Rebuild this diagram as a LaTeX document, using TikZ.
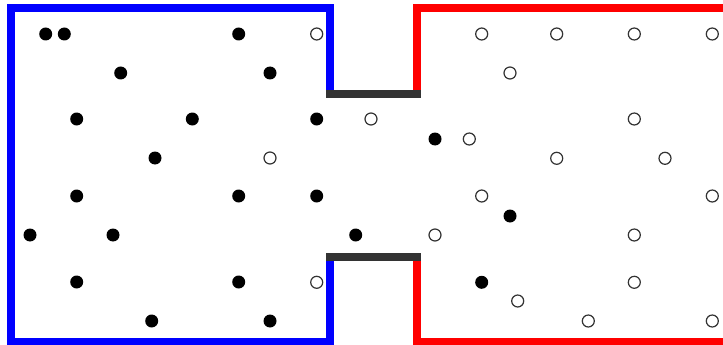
\documentclass[tikz,border=0pt]{standalone}
\begin{document}
\begin{tikzpicture}[x=1pt,y=-1pt,
  wall/.style={line width=8pt,line join=miter},
  bluewall/.style={wall,draw={rgb,255:red,0;green,0;blue,255}},
  redwall/.style={wall,draw={rgb,255:red,255;green,0;blue,0}},
  graywall/.style={line width=8pt,draw={rgb,255:red,51;green,51;blue,51}},
  fulldot/.style={circle,fill=black,minimum size=13pt,inner sep=0pt},
  emptydot/.style={circle,draw={rgb,255:red,51;green,51;blue,51},line width=1.2pt,fill=white,minimum size=12pt,inner sep=0pt}]
\useasboundingbox (0,0) rectangle (723,345);
\fill[white] (0,0) rectangle (723,345);
\draw[bluewall] (330,90) -- (330,8.5) -- (11,8.5) -- (11,341.5) -- (330,341.5) -- (330,260.5);
\draw[redwall] (416.5,90) -- (416.5,8.5) -- (735,8.5);
\draw[redwall] (416.5,260.5) -- (416.5,341.5) -- (735,341.5);
\draw[graywall] (326,94) -- (421,94);
\draw[graywall] (326,256.7) -- (421,256.7);
\foreach \p [count=\i] in {{45.7,34},{64.3,34},{238.7,34},{120.7,73},{270,73},{76.7,119},{192.3,119},{316.7,119},{155,158},{76.7,196},{238.7,196},{316.7,196},{30,235},{113,235},{355.7,235},{76.7,282},{238.7,282},{151.7,321},{270,321},{435,139},{510,216},{481.7,282.3}}
  \node[fulldot] (f\i) at (\p) {};
\foreach \p [count=\i] in {{316.7,34},{481.7,34},{556.7,34},{634.3,34},{712.3,34},{510,73},{371,119},{634.3,119},{469.3,139},{270,158},{556.7,158.3},{665,158.3},{481.7,196},{712.3,196},{435,235},{634.3,235},{316.7,282.3},{634.3,282.3},{517.7,301},{588.3,321},{712.3,321}}
  \node[emptydot] (e\i) at (\p) {};
\end{tikzpicture}
\end{document}
